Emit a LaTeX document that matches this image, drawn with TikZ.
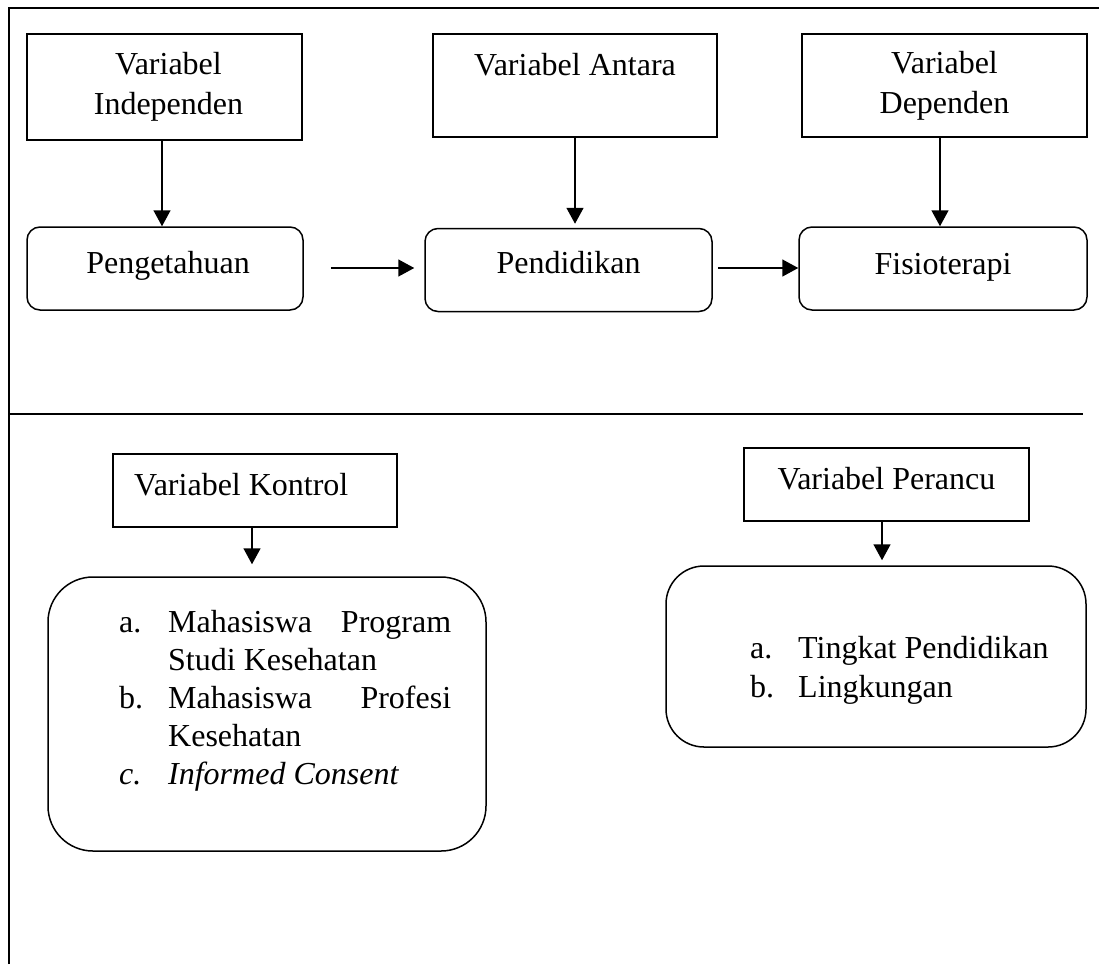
\documentclass[tikz,border=0pt]{standalone}
\usepackage{fontspec}
\setmainfont{Liberation Serif}
\usetikzlibrary{arrows.meta}
\begin{document}
\begin{tikzpicture}[x=1pt,y=-1pt,
  every node/.style={font=\fontsize{32}{40}\selectfont},
  sqbox/.style={draw,line width=1.5pt,inner sep=0pt,align=center},
  rbox/.style={draw,line width=1.5pt,inner sep=0pt,align=center,rounded corners=13pt},
  bigr/.style={draw,line width=1.5pt,inner sep=0pt,rounded corners=#1},
  txt/.style={inner sep=0pt,anchor=base},
  arr/.style={line width=1.5pt,-{Triangle[length=16pt,width=17pt]}},
  frame/.style={line width=1.5pt}]
\useasboundingbox (0,0) rectangle (1099,964);
% frame
\coordinate (f1) at (9,964);
\coordinate (f2) at (9,8);
\coordinate (f3) at (1099,8);
\coordinate (d1) at (9,414);
\coordinate (d2) at (1083,414);
\draw[frame] (f1) -- (f2) -- (f3);
\draw[frame] (d1) -- (d2);
% top row boxes
\node[sqbox,minimum width=275pt,minimum height=106pt] (ind) at (164.5,87) {\hspace*{8pt}Variabel\\\hspace*{8pt}Independen};
\node[sqbox,minimum width=284pt,minimum height=103pt] (ant) at (575,85.5) {};
\node[txt] (antt) at (575,75) {Variabel Antara};
\node[sqbox,minimum width=285pt,minimum height=103pt] (dep) at (944.5,85.5) {Variabel\\Dependen};
\node[rbox,minimum width=276pt,minimum height=83pt] (peng) at (165,268.5) {};
\node[txt] (pengt) at (168,273) {Pengetahuan};
\node[rbox,minimum width=287pt,minimum height=83pt] (pend) at (568.5,270) {};
\node[txt] (pendt) at (568.5,273) {Pendidikan};
\node[rbox,minimum width=288pt,minimum height=83pt] (fis) at (943,268.5) {};
\node[txt] (fist) at (943,274) {Fisioterapi};
\draw[arr] (ind.south -| 162,0) -- (peng.north -| 162,0);
\draw[arr,shorten >=4pt] (ant.south) -- (ant.south |- pend.north);
\draw[arr] (dep.south -| 940,0) -- (fis.north -| 940,0);
\draw[arr] ([xshift=27pt]peng.east |- 0,268) -- ([xshift=-10pt]pend.west |- 0,268);
\draw[arr] ([xshift=5pt]pend.east |- 0,268) -- (fis.west |- 0,268);
% bottom: kontrol
\node[sqbox,minimum width=284pt,minimum height=73pt] (kv) at (255,490.5) {};
\node[txt,anchor=base west] (kvt) at (134,495) {Variabel Kontrol};
\node[bigr=45pt,minimum width=438pt,minimum height=274pt] (kl) at (267,714) {};
\node[inner sep=0pt,anchor=base west] (klt) at (119,632) {%
\begin{minipage}[t]{332pt}\fontsize{32}{38}\selectfont\setlength{\parindent}{0pt}%
\makebox[49pt][l]{a.}\makebox[283pt][s]{Mahasiswa\hfill Program}\\
\hspace*{49pt}Studi Kesehatan\\
\makebox[49pt][l]{b.}\makebox[283pt][s]{Mahasiswa\hfill Profesi}\\
\hspace*{49pt}Kesehatan\\
\makebox[49pt][l]{\textit{c.}}\textit{Informed Consent}
\end{minipage}};
\draw[arr,shorten >=12pt] (kv.south -| 252,0) -- (kl.north -| 252,0);
% bottom: perancu
\node[sqbox,minimum width=285pt,minimum height=73pt] (pv) at (886.5,484.5) {};
\node[txt] (pvt) at (886.5,489) {Variabel Perancu};
\node[bigr=38pt,minimum width=420pt,minimum height=181pt] (pl) at (876,656.5) {};
\node[inner sep=0pt,anchor=base west] (plt) at (750,658) {%
\begin{minipage}[t]{300pt}\fontsize{32}{39}\selectfont\setlength{\parindent}{0pt}%
\makebox[48pt][l]{a.}Tingkat Pendidikan\\
\makebox[48pt][l]{b.}Lingkungan
\end{minipage}};
\draw[arr,shorten >=5pt] (pv.south -| 882,0) -- (pl.north -| 882,0);
\end{tikzpicture}
\end{document}
